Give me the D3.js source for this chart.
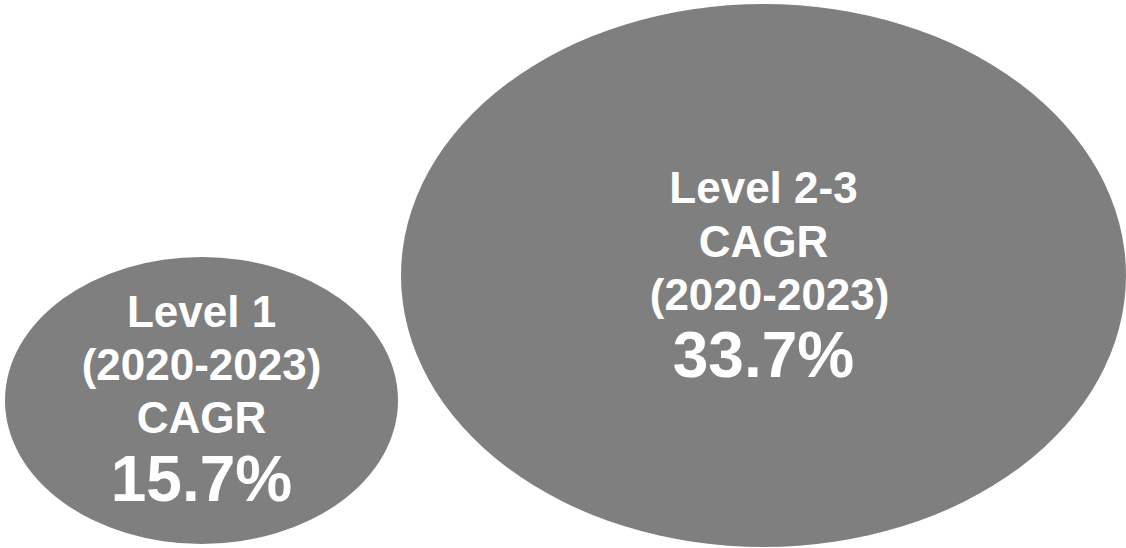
<!DOCTYPE html>
<html>
<head>
<meta charset="utf-8">
<script src="https://cdn.jsdelivr.net/npm/d3@7"></script>
<style>
  html, body { margin: 0; padding: 0; background: #ffffff; }
  svg { display: block; }
  text { font-family: "Liberation Sans", Arial, sans-serif; font-weight: bold; fill: #ffffff; white-space: pre; }
</style>
</head>
<body>
<svg id="chart" width="1126" height="548"></svg>
<script>
// Data
const categories = ["Level 1", "Level 2-3"];
const cagrValues = [15.7, 33.7];
const labelLines = [
  ["Level 1", "(2020-2023)", "CAGR"],
  ["Level 2-3", "CAGR", " (2020-2023)"]
];

// Layout (not data)
const W = 1126, H = 548;
const layout = [
  { cx: 201.5, cy: 400.5, rx: 196.5, ry: 143.5, firstBaseline: 327, lineStep: 53, valueBaseline: 501 },
  { cx: 763.5, cy: 275.5, rx: 362.5, ry: 271.5, firstBaseline: 203, lineStep: 53.5, valueBaseline: 377 }
];
const fill = "#7f7f7f";

const svg = d3.select("#chart");
const fmt = d3.format(".1f");

const groups = svg.selectAll("g.bubble")
  .data(categories.map((c, i) => ({ cat: c, value: cagrValues[i], lines: labelLines[i], L: layout[i] })))
  .join("g")
  .attr("class", "bubble");

groups.append("ellipse")
  .attr("cx", d => d.L.cx)
  .attr("cy", d => d.L.cy)
  .attr("rx", d => d.L.rx)
  .attr("ry", d => d.L.ry)
  .attr("fill", fill);

groups.each(function(d) {
  const g = d3.select(this);
  g.selectAll("text.lbl")
    .data(d.lines)
    .join("text")
    .attr("class", "lbl")
    .attr("x", d.L.cx)
    .attr("y", (t, j) => d.L.firstBaseline + j * d.L.lineStep)
    .attr("text-anchor", "middle")
    .style("font-size", "44px")
    .text(t => t);
  g.append("text")
    .attr("class", "val")
    .attr("x", d.L.cx)
    .attr("y", d.L.valueBaseline)
    .attr("text-anchor", "middle")
    .style("font-size", "64px")
    .text(fmt(d.value) + "%");
});
</script>
</body>
</html>
